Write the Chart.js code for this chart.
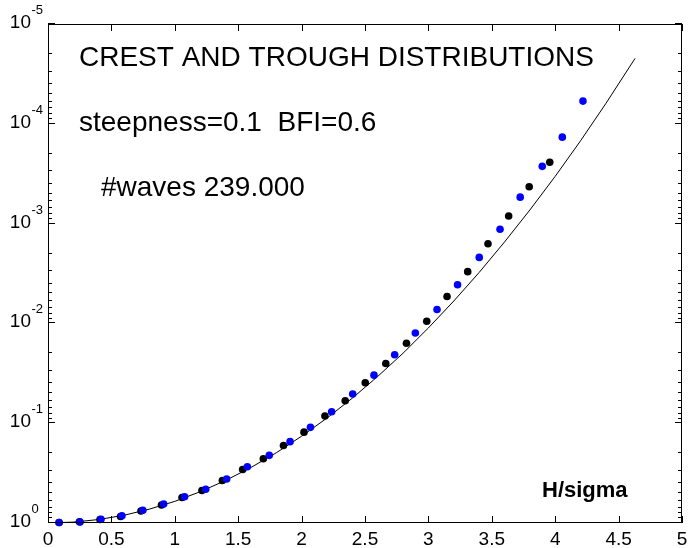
<!DOCTYPE html>
<html>
<head>
<meta charset="utf-8">
<script src="https://cdn.jsdelivr.net/npm/chart.js@4.4.1/dist/chart.umd.min.js"></script>
<style>
  html, body { margin: 0; padding: 0; background: #fff; }
  #wrap { width: 689px; height: 548px; position: relative; }
</style>
</head>
<body>
<div id="wrap"><canvas id="c" width="689" height="548"></canvas></div>
<script>
// Exceedance probabilities of normalised height H/sigma
// Black markers
const crestH = [0.087, 0.248, 0.410, 0.572, 0.733, 0.895, 1.057, 1.214, 1.375, 1.535,
                1.698, 1.857, 2.019, 2.184, 2.344, 2.502, 2.664, 2.827, 2.987, 3.147,
                3.310, 3.470, 3.633, 3.795, 3.957];
const crestP = [0.989, 0.973, 0.923, 0.861, 0.759, 0.661, 0.555, 0.472, 0.375, 0.291,
                0.227, 0.167, 0.123, 0.0847, 0.0596, 0.0393, 0.0252, 0.0158, 0.00951, 0.00537,
                0.00303, 0.00159, 0.000839, 0.000428, 0.000243];
// Blue markers
const troughH = [0.088, 0.253, 0.418, 0.583, 0.748, 0.912, 1.077, 1.244, 1.409, 1.572,
                 1.745, 1.909, 2.070, 2.237, 2.403, 2.571, 2.734, 2.897, 3.068, 3.230,
                 3.401, 3.565, 3.724, 3.898, 4.056, 4.219];
const troughP = [0.989, 0.977, 0.918, 0.845, 0.746, 0.646, 0.545, 0.459, 0.362, 0.273,
                 0.210, 0.153, 0.110, 0.0767, 0.0509, 0.0330, 0.0206, 0.0125, 0.00726, 0.00410,
                 0.00218, 0.00114, 0.000543, 0.000267, 0.000136, 0.0000592];
// Reference curve
const modelH = [0, 0.2, 0.4, 0.6, 0.8, 1.0, 1.2, 1.4, 1.6, 1.8, 2.0, 2.2, 2.4, 2.6, 2.8,
                3.0, 3.2, 3.4, 3.6, 3.8, 4.0, 4.2, 4.4, 4.63];
const modelP = [1, 0.980, 0.923, 0.836, 0.726, 0.607, 0.486, 0.375, 0.278, 0.198, 0.135,
                0.0889, 0.0561, 0.0340, 0.0199, 0.0111, 0.00597, 0.00309, 0.00153,
                0.000731, 0.000336, 0.000148, 0.0000625, 0.0000221];

const xTickValues = [0, 0.5, 1, 1.5, 2, 2.5, 3, 3.5, 4, 4.5, 5];
const xTickLabels = ['0', '0.5', '1', '1.5', '2', '2.5', '3', '3.5', '4', '4.5', '5'];
const yDecadeExponents = [-5, -4, -3, -2, -1, 0];
const yMinorMultipliers = [2, 3, 4, 5, 6, 7, 8, 9];

const textLines = ['CREST AND TROUGH DISTRIBUTIONS', 'steepness=0.1  BFI=0.6', '#waves 239.000'];
const xAxisName = 'H/sigma';

const FONT = "'Liberation Sans', Arial, Helvetica, sans-serif";

function toPoints(xs, ys) {
  return xs.map((x, i) => ({ x: x, y: ys[i] }));
}

// Box frame, inward tick marks, tick labels and annotations
const frameAndText = {
  id: 'frameAndText',
  afterDraw(chart) {
    const ctx = chart.ctx;
    const a = chart.chartArea;
    const xs = chart.scales.x;
    const ys = chart.scales.y;
    ctx.save();
    ctx.strokeStyle = '#000';
    ctx.lineWidth = 1;
    ctx.strokeRect(Math.round(a.left) + 0.5, Math.round(a.top) + 0.5,
                   Math.round(a.right - a.left) - 1, Math.round(a.bottom - a.top) - 1);

    ctx.beginPath();
    xTickValues.forEach(v => {
      const px = Math.round(xs.getPixelForValue(v)) + 0.5;
      ctx.moveTo(px, a.bottom); ctx.lineTo(px, a.bottom - 7);
      ctx.moveTo(px, a.top); ctx.lineTo(px, a.top + 7);
    });
    yDecadeExponents.forEach(e => {
      const py = Math.round(ys.getPixelForValue(Math.pow(10, e))) - 0.5;
      ctx.moveTo(a.left, py); ctx.lineTo(a.left + 7, py);
      ctx.moveTo(a.right, py); ctx.lineTo(a.right - 7, py);
      if (e < 0) {
        yMinorMultipliers.forEach(m => {
          const pm = Math.round(ys.getPixelForValue(m * Math.pow(10, e))) - 0.5;
          ctx.moveTo(a.left, pm); ctx.lineTo(a.left + 4, pm);
          ctx.moveTo(a.right, pm); ctx.lineTo(a.right - 4, pm);
        });
      }
    });
    ctx.stroke();

    ctx.fillStyle = '#000';
    // x labels
    ctx.font = '19px ' + FONT;
    ctx.textAlign = 'center';
    ctx.textBaseline = 'alphabetic';
    xTickValues.forEach((v, i) => {
      ctx.fillText(xTickLabels[i], xs.getPixelForValue(v), 545);
    });

    // y labels: 10 with a raised exponent
    yDecadeExponents.forEach(e => {
      const py = ys.getPixelForValue(Math.pow(10, e));
      ctx.font = '19px ' + FONT;
      ctx.textAlign = 'right';
      ctx.fillText('10', 31, py + 4);
      ctx.font = '13px ' + FONT;
      ctx.textAlign = 'left';
      ctx.fillText(String(e), 31.5, py - 10);
    });

    // annotations
    ctx.font = '28px ' + FONT;
    ctx.textAlign = 'left';
    ctx.fillText(textLines[0], 79, 66);
    ctx.fillText(textLines[1], 79, 131);
    ctx.fillText(textLines[2], 101, 196);

    ctx.font = 'bold 22px ' + FONT;
    ctx.fillText(xAxisName, 542, 497);
    ctx.restore();
  }
};

new Chart(document.getElementById('c'), {
  type: 'scatter',
  data: {
    datasets: [
      {
        label: 'trough',
        data: toPoints(troughH, troughP),
        backgroundColor: '#0000ff',
        borderWidth: 0,
        pointRadius: 3.8,
        showLine: false,
        clip: 6
      },
      {
        label: 'crest',
        data: toPoints(crestH, crestP),
        backgroundColor: '#000000',
        borderWidth: 0,
        pointRadius: 3.8,
        showLine: false,
        clip: 6
      },
      {
        label: 'reference',
        data: toPoints(modelH, modelP),
        borderColor: '#000000',
        borderWidth: 1,
        pointRadius: 0,
        showLine: true,
        tension: 0
      }
    ]
  },
  options: {
    responsive: false,
    devicePixelRatio: 1,
    animation: false,
    layout: { padding: { left: 48, right: 7, top: 24, bottom: 25 } },
    plugins: {
      legend: { display: false },
      tooltip: { enabled: false },
      title: { display: false }
    },
    scales: {
      x: {
        type: 'linear',
        display: false,
        min: 0,
        max: 5
      },
      y: {
        type: 'logarithmic',
        display: false,
        reverse: true,
        min: 1e-5,
        max: 1
      }
    }
  },
  plugins: [frameAndText]
});
</script>
</body>
</html>
